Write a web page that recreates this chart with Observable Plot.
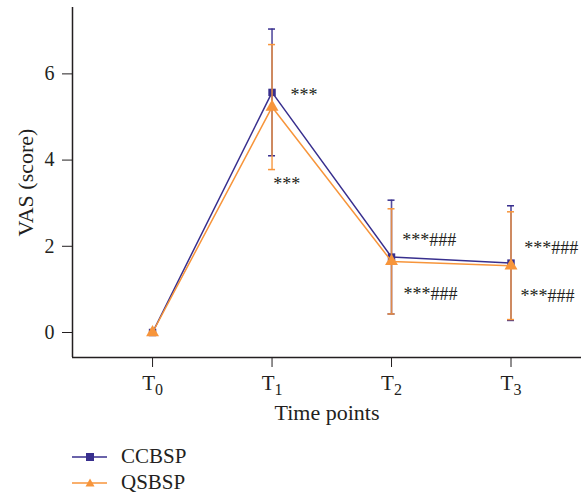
<!DOCTYPE html>
<html>
<head>
<meta charset="utf-8">
<script src="https://cdn.jsdelivr.net/npm/d3@7"></script>
<script src="https://cdn.jsdelivr.net/npm/@observablehq/plot@0.6"></script>
<style>
  body { margin: 0; background: #fff; }
  #chart { width: 581px; height: 496px; position: relative; font-family: "Liberation Serif", "DejaVu Serif", serif; }
  .legend { position: absolute; left: 72px; font-size: 21px; color: #231f20; display: flex; align-items: center; line-height: 1; }
  .legend svg { margin-right: 14px; }
</style>
</head>
<body>
<div id="chart"></div>
<script>
// ---- data ----
const timePoints = ["T0", "T1", "T2", "T3"];
const seriesNames = ["CCBSP", "QSBSP"];
const ccbspMean = [0, 5.57, 1.75, 1.61];
const ccbspSD   = [0, 1.47, 1.32, 1.33];
const qsbspMean = [0, 5.23, 1.65, 1.55];
const qsbspSD   = [0, 1.45, 1.22, 1.25];
// significance annotations: time index, y value, label
const annoIndex = [1, 1, 2, 2, 3, 3];
const annoY     = [5.5, 3.45, 2.15, 0.88, 1.95, 0.85];
const annoLabel = ["***", "***", "***###", "***###", "***###", "***###"];
const annoDx    = [0.155, 0.01, 0.09, 0.1, 0.11, 0.08];

const colors = {CCBSP: "#382f8e", QSBSP: "#f7953b"};
const textColor = "#231f20";

const rows = [];
timePoints.forEach((t, i) => {
  rows.push({series: "CCBSP", i, mean: ccbspMean[i], lo: ccbspMean[i] - ccbspSD[i], hi: ccbspMean[i] + ccbspSD[i]});
});
timePoints.forEach((t, i) => {
  rows.push({series: "QSBSP", i, mean: qsbspMean[i], lo: qsbspMean[i] - qsbspSD[i], hi: qsbspMean[i] + qsbspSD[i]});
});
const errRows = rows.filter(d => d.i > 0);
const annos = annoLabel.map((l, k) => ({x: annoIndex[k] + annoDx[k], y: annoY[k], label: l}));

const marks = [];
for (const s of seriesNames) {
  const d = rows.filter(r => r.series === s);
  const e = errRows.filter(r => r.series === s);
  const c = colors[s];
  marks.push(
    Plot.line(d, {x: "i", y: "mean", stroke: c, strokeWidth: 1.5}),
    Plot.ruleX(e, {x: "i", y1: "lo", y2: "hi", stroke: c, strokeWidth: 1.6, strokeOpacity: 0.85}),
    Plot.ruleY(e, {y: "hi", x1: "i", x2: "i", insetLeft: -3.5, insetRight: -3.5, stroke: c, strokeWidth: 1.5}),
    Plot.ruleY(e, {y: "lo", x1: "i", x2: "i", insetLeft: -3.5, insetRight: -3.5, stroke: c, strokeWidth: 1.5}),
    Plot.dot(d, {x: "i", y: "mean", symbol: s === "CCBSP" ? "square" : "triangle", r: s === "CCBSP" ? 4.2 : 4.8, fill: c, stroke: "none"})
  );
}

const plot = Plot.plot({
  width: 581,
  height: 430,
  marginLeft: 72,
  marginRight: 0,
  marginTop: 7,
  marginBottom: 73,
  style: {fontFamily: "'Liberation Serif', 'DejaVu Serif', serif", fontSize: "20px", color: textColor, background: "#fff"},
  x: {domain: [-0.67, 3.59]},
  y: {domain: [-0.58, 7.54]},
  marks: [
    Plot.axisX({ticks: [0, 1, 2, 3], tickFormat: i => timePoints[i], tickSize: 10, tickPadding: 8, label: null, fontSize: 21}),
    Plot.axisY({ticks: [0, 2, 4, 6], tickSize: 10, tickPadding: 8, label: null, fontSize: 20}),
    Plot.ruleX([-0.67], {stroke: textColor, strokeWidth: 1.5}),
    Plot.ruleY([-0.58], {stroke: textColor, strokeWidth: 1.5}),
    Plot.text(["VAS (score)"], {frameAnchor: "left", dx: -47, rotate: -90, textAnchor: "middle", lineAnchor: "middle", fontSize: 22, fill: textColor}),
    Plot.text(["Time points"], {frameAnchor: "bottom", dy: 55, textAnchor: "middle", lineAnchor: "middle", fontSize: 22, fill: textColor}),
    ...marks,
    Plot.text(annos, {x: "x", y: "y", text: "label", textAnchor: "start", fontSize: 18, fill: textColor})
  ]
});

// subscripts for tick labels T0..T3
d3.select(plot).selectAll("[aria-label='x-axis tick label'] text").each(function() {
  const t = this.textContent;
  const sel = d3.select(this);
  sel.text(null);
  sel.append("tspan").text(t.slice(0, 1));
  sel.append("tspan").attr("dy", "5px").attr("font-size", "16px").text(t.slice(1));
});

const chart = document.getElementById("chart");
chart.appendChild(plot);

function legendItem(name, top, symbol) {
  const div = document.createElement("div");
  div.className = "legend";
  div.style.top = top + "px";
  const c = colors[name];
  const sym = symbol === "square"
    ? `<rect x="14" y="3" width="8" height="8" fill="${c}"/>`
    : `<path d="M18,2.5 L22.5,10.5 L13.5,10.5 Z" fill="${c}"/>`;
  div.innerHTML = `<svg width="35" height="14"><line x1="0" x2="35" y1="7" y2="7" stroke="${c}" stroke-width="1.5"/>${sym}</svg><span>${name}</span>`;
  chart.appendChild(div);
}
legendItem("CCBSP", 446, "square");
legendItem("QSBSP", 472, "triangle");
</script>
</body>
</html>
